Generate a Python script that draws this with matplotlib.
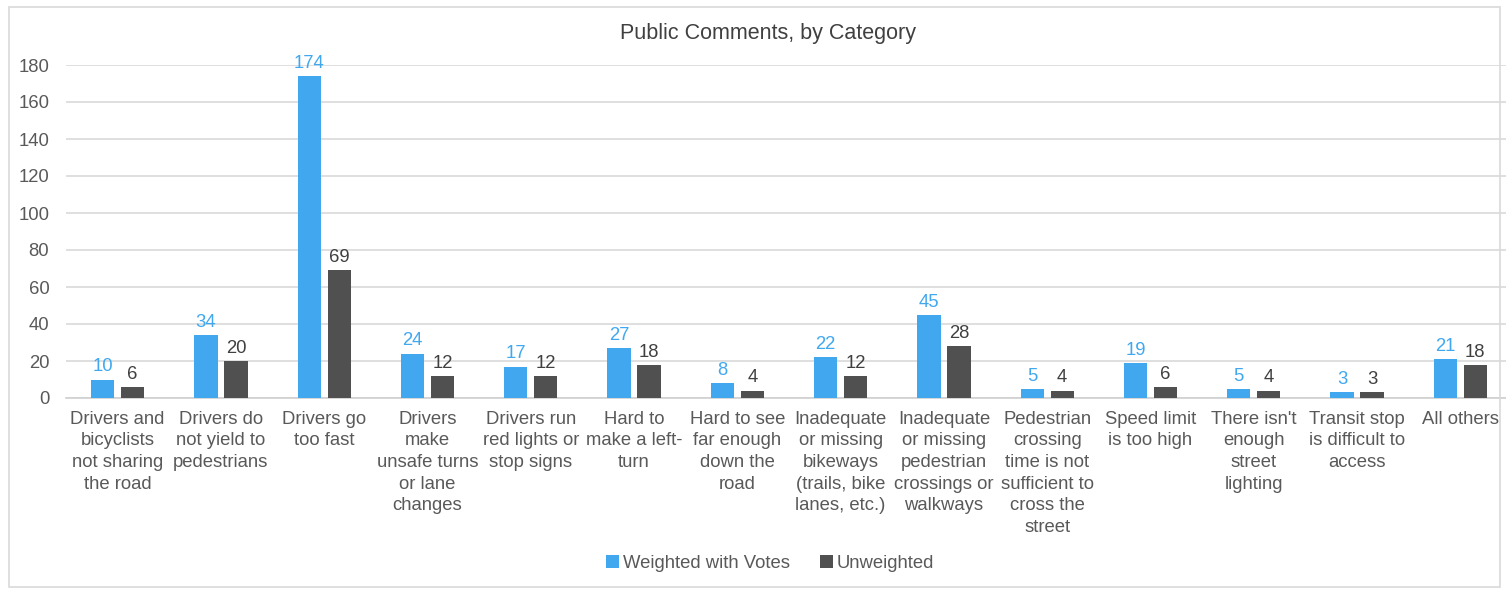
import matplotlib.pyplot as plt
from matplotlib.patches import Rectangle
import numpy as np

plt.rcParams['font.family'] = ['Liberation Sans', 'DejaVu Sans']

# Categories and counts
categories = [
    "Drivers and\nbicyclists\nnot sharing\nthe road",
    "Drivers do\nnot yield to\npedestrians",
    "Drivers go\ntoo fast",
    "Drivers\nmake\nunsafe turns\nor lane\nchanges",
    "Drivers run\nred lights or\nstop signs",
    "Hard to\nmake a left-\nturn",
    "Hard to see\nfar enough\ndown the\nroad",
    "Inadequate\nor missing\nbikeways\n(trails, bike\nlanes, etc.)",
    "Inadequate\nor missing\npedestrian\ncrossings or\nwalkways",
    "Pedestrian\ncrossing\ntime is not\nsufficient to\ncross the\nstreet",
    "Speed limit\nis too high",
    "There isn't\nenough\nstreet\nlighting",
    "Transit stop\nis difficult to\naccess",
    "All others",
]
weighted = [10, 34, 174, 24, 17, 27, 8, 22, 45, 5, 19, 5, 3, 21]
unweighted = [6, 20, 69, 12, 12, 18, 4, 12, 28, 4, 6, 4, 3, 18]

blue = "#41a8f0"
gray = "#505050"
text_col = "#595959"
fs = 13.3

fig = plt.figure(figsize=(15.06, 5.89), dpi=100)
ax = fig.add_axes([66 / 1506, 1 - 398 / 589, 1446 / 1506, 333 / 589])

x = np.arange(len(categories))
w = 0.225
off = 0.145
b1 = ax.bar(x - off, weighted, w, color=blue, label="Weighted with Votes", zorder=3)
b2 = ax.bar(x + off, unweighted, w, color=gray, label="Unweighted", zorder=3)
ax.bar_label(b1, padding=3, color=blue, fontsize=fs)
ax.bar_label(b2, padding=3, color="#404040", fontsize=fs)

ax.set_xlim(-0.5, len(categories) - 0.5)
ax.set_ylim(0, 180)
ax.set_yticks(range(0, 181, 20))
ax.set_xticks(x)
ax.set_xticklabels(categories, fontsize=fs, color=text_col, linespacing=1.36)
ax.tick_params(axis='y', labelsize=fs, labelcolor=text_col, length=0, pad=12)
ax.tick_params(axis='x', length=0, pad=9)
ax.yaxis.grid(True, color="#d9d9d9", linewidth=1.2, zorder=0)
for s in ["top", "right", "left"]:
    ax.spines[s].set_visible(False)
ax.spines["bottom"].set_color("#d0d0d0")
ax.spines["bottom"].set_linewidth(1.2)

fig.text(768 / 1506, 1 - 33 / 589, "Public Comments, by Category",
         ha="center", va="center", fontsize=15.5, color="#404040")

fig.legend(handles=[b1, b2], loc="center", bbox_to_anchor=(770 / 1506, 1 - 563 / 589),
           ncol=2, frameon=False, fontsize=fs, labelcolor=text_col,
           handlelength=0.7, handleheight=0.7, handletextpad=0.2, columnspacing=1.6)

# outer chart border
fig.patches.append(Rectangle((9 / 1506, 2 / 589), 1491 / 1506, 580 / 589,
                             transform=fig.transFigure, fill=False,
                             edgecolor="#d9d9d9", linewidth=1.2))

fig.savefig("out.png", dpi=100)
